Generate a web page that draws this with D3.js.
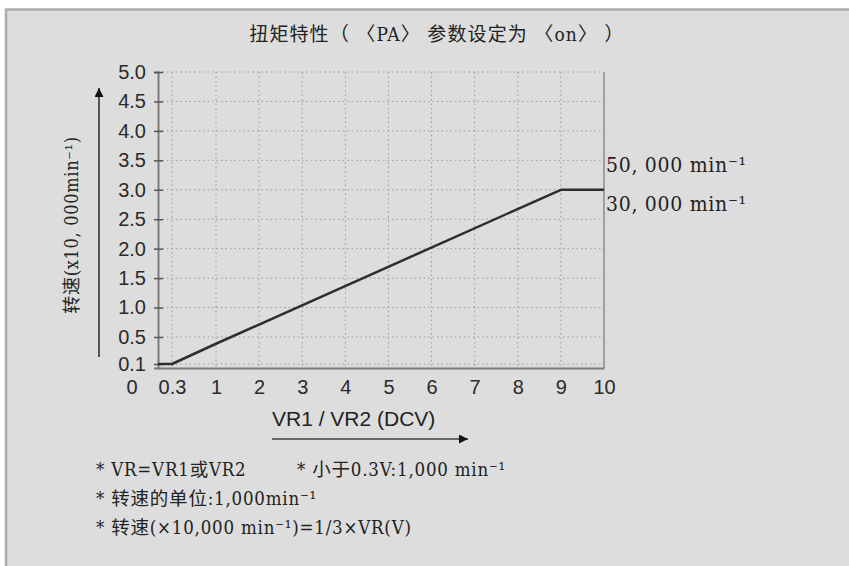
<!DOCTYPE html>
<html>
<head>
<meta charset="utf-8">
<script src="https://cdn.jsdelivr.net/npm/d3@7"></script>
<style>
  html, body { margin: 0; padding: 0; background: #ffffff; }
  svg { display: block; }
</style>
</head>
<body>
<svg id="chart" width="849" height="566"></svg>
<script>
// Speed vs. control voltage (torque characteristic, PA = on)
const voltage = [0, 0.3, 1, 9, 10];          // VR1 / VR2 (DCV)
const speed   = [0.1, 0.1, 0.4, 3.0, 3.0];   // x10,000 min^-1
const xTickValues = [0.3, 1, 2, 3, 4, 5, 6, 7, 8, 9, 10];
const yTickValues = [0.1, 0.5, 1.0, 1.5, 2.0, 2.5, 3.0, 3.5, 4.0, 4.5, 5.0];
const xGridValues = [0.3, 1, 2, 3, 4, 5, 6, 7, 8, 9];
const yGridValues = [0.1, 0.5, 1.0, 1.5, 2.0, 2.5, 3.0, 3.5, 4.0, 4.5, 5.0];
const titleText = "扭矩特性（ 〈PA〉 参数设定为 〈on〉 ）";
const yTitle = "转速(x10, 000min⁻¹)";
const xTitle = "VR1 / VR2 (DCV)";
const limitLabels = ["50, 000 min⁻¹", "30, 000 min⁻¹"];
const notes = [
  ["* VR=VR1或VR2", "* 小于0.3V:1,000 min⁻¹"],
  ["* 转速的单位:1,000min⁻¹"],
  ["* 转速(×10,000 min⁻¹)=1/3×VR(V)"]
];

const serif = "'DejaVu Serif Condensed', 'DejaVu Serif', 'Noto Sans CJK SC', serif";
const sans = "'Liberation Sans', Arial, sans-serif";

const svg = d3.select("#chart");

// panel background
svg.append("rect")
  .attr("x", 6).attr("y", 9.5)
  .attr("width", 860).attr("height", 580)
  .attr("fill", "#dcdddc")
  .attr("stroke", "#adadad")
  .attr("stroke-width", 2.5);

// plot frame
const plot = { left: 158, right: 604, top: 72, bottom: 368 };

// the axes are drawn schematically: the low end is expanded
const x = d3.scaleLinear()
  .domain([0, 0.3, 1, 10])
  .range([plot.left, 172, 216, plot.right]);
const y = d3.scaleLinear()
  .domain([0, 0.1, 0.5, 5])
  .range([plot.bottom, 364, 337, plot.top]);

// title
svg.append("text")
  .attr("x", 437).attr("y", 41)
  .attr("text-anchor", "middle")
  .attr("font-family", serif)
  .attr("font-stretch", "condensed")
  .attr("font-size", 19)
  .attr("letter-spacing", 1.1)
  .attr("fill", "#222")
  .text(titleText);

// dotted grid
const grid = svg.append("g")
  .attr("stroke", "#9a9a9a")
  .attr("stroke-width", 1)
  .attr("stroke-dasharray", "1.5,3");
grid.selectAll("line.v").data(xGridValues).join("line")
  .attr("class", "v")
  .attr("x1", d => x(d)).attr("x2", d => x(d))
  .attr("y1", y(5)).attr("y2", plot.bottom);
grid.selectAll("line.h").data(yGridValues).join("line")
  .attr("class", "h")
  .attr("x1", plot.left).attr("x2", plot.right)
  .attr("y1", d => y(d)).attr("y2", d => y(d));

// right frame edge
svg.append("line")
  .attr("x1", plot.right).attr("x2", plot.right)
  .attr("y1", plot.top).attr("y2", plot.bottom)
  .attr("stroke", "#8a8a8a").attr("stroke-width", 1.5);

// y axis
const yAxis = svg.append("g")
  .attr("transform", `translate(${plot.left},0)`)
  .call(d3.axisLeft(y).tickValues(yTickValues).tickFormat(d3.format(".1f"))
        .tickSize(4).tickPadding(8));
yAxis.select(".domain").attr("stroke", "#7a7a7a").attr("stroke-width", 2);
yAxis.selectAll(".tick line").attr("x1", -4).attr("x2", 5)
  .attr("stroke", "#555").attr("stroke-width", 1.5);
yAxis.selectAll(".tick text")
  .attr("font-family", sans).attr("font-size", 20).attr("fill", "#2a2a2a");

// x axis
const xAxis = svg.append("g")
  .attr("transform", `translate(0,${plot.bottom})`)
  .call(d3.axisBottom(x).tickValues(xTickValues).tickFormat(d => String(d))
        .tickSize(0).tickPadding(12));
xAxis.select(".domain").attr("stroke", "#7a7a7a").attr("stroke-width", 2);
xAxis.selectAll(".tick text")
  .attr("font-family", sans).attr("font-size", 20).attr("fill", "#2a2a2a");

// origin label
svg.append("text")
  .attr("x", x(0) - 26).attr("y", plot.bottom + 12)
  .attr("dy", "0.71em")
  .attr("text-anchor", "middle")
  .attr("font-family", sans).attr("font-size", 20).attr("fill", "#2a2a2a")
  .text("0");

// speed curve
svg.append("path")
  .datum(voltage.map((v, i) => [v, speed[i]]))
  .attr("fill", "none")
  .attr("stroke", "#2e2e2e")
  .attr("stroke-width", 2.5)
  .attr("stroke-linejoin", "round")
  .attr("d", d3.line().x(d => x(d[0])).y(d => y(d[1])));

// limit labels on the right
svg.selectAll("text.limit").data(limitLabels).join("text")
  .attr("class", "limit")
  .attr("x", plot.right + 2)
  .attr("y", (d, i) => i === 0 ? y(3.5) + 12 : y(3.0) + 21)
  .attr("font-family", serif)
  .attr("font-stretch", "condensed")
  .attr("font-size", 21)
  .attr("letter-spacing", 0.7)
  .attr("fill", "#222")
  .text(d => d);

// y axis title and arrow
svg.append("text")
  .attr("transform", `translate(78,225) rotate(-90)`)
  .attr("text-anchor", "middle")
  .attr("font-family", serif)
  .attr("font-stretch", "condensed")
  .attr("font-size", 18)
  .attr("letter-spacing", 0.7)
  .attr("fill", "#222")
  .text(yTitle);

const defs = svg.append("defs");
defs.append("marker")
  .attr("id", "arrow")
  .attr("viewBox", "0 0 10 10")
  .attr("refX", 10).attr("refY", 5)
  .attr("markerUnits", "userSpaceOnUse")
  .attr("markerWidth", 14).attr("markerHeight", 9)
  .attr("orient", "auto")
  .append("path")
  .attr("d", "M0,0 L10,5 L0,10 Z")
  .attr("fill", "#111");

svg.append("line")
  .attr("x1", 99).attr("x2", 99)
  .attr("y1", 357).attr("y2", 88)
  .attr("stroke", "#555").attr("stroke-width", 2)
  .attr("marker-end", "url(#arrow)");

// x axis title and arrow
svg.append("text")
  .attr("x", 272).attr("y", 426)
  .attr("font-family", sans)
  .attr("font-size", 21)
  .attr("fill", "#222")
  .text(xTitle);

svg.append("line")
  .attr("x1", 272).attr("x2", 468)
  .attr("y1", 439).attr("y2", 439)
  .attr("stroke", "#666").attr("stroke-width", 2)
  .attr("marker-end", "url(#arrow)");

// footnotes
const noteG = svg.append("g")
  .attr("font-family", serif)
  .attr("font-stretch", "condensed")
  .attr("font-size", 18.5)
  .attr("letter-spacing", 0.8)
  .attr("fill", "#222");
notes.forEach((row, r) => {
  row.forEach((txt, c) => {
    noteG.append("text")
      .attr("x", c === 0 ? 96 : 297)
      .attr("y", 476 + r * 29)
      .text(txt);
  });
});
</script>
</body>
</html>
